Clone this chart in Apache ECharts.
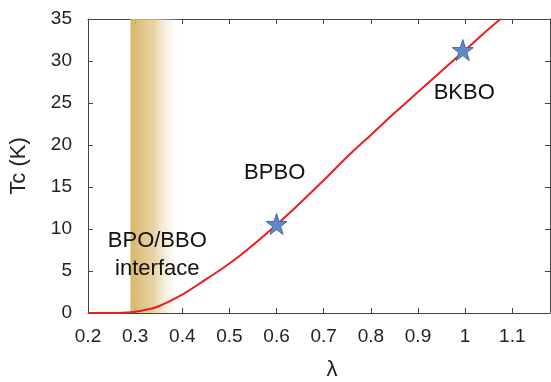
<!DOCTYPE html>
<html>
<head>
<meta charset="utf-8">
<script src="https://cdn.jsdelivr.net/npm/echarts@6/dist/echarts.min.js"></script>
<style>
  html, body { margin: 0; padding: 0; background: #fff; }
  #tcChart { width: 551px; height: 382px; }
</style>
</head>
<body>
<div id="tcChart"></div>
<script>
// Tc 随 λ 变化曲线
const lambdaData = [0.2, 0.25, 0.28, 0.3, 0.32, 0.35, 0.4, 0.45, 0.5, 0.55, 0.6, 0.65, 0.7, 0.75, 0.8, 0.85, 0.9, 0.95, 1.0, 1.05, 1.075];
const tcData = [0, 0, 0.05, 0.15, 0.35, 0.8, 2.2, 4.0, 5.9, 8.1, 10.5, 13.1, 15.8, 18.6, 21.2, 23.8, 26.3, 28.8, 31.3, 33.8, 35];

// 实验点 (星形)
const starPoints = [[0.6, 10.6], [0.995, 31.3]];

// 界面区域
const bandRange = [0.29, 0.40];

// 文字标注
const notes = [
  { name: "BPO/BBO\ninterface", value: [0.347, 6.9] },
  { name: "BPBO", value: [0.596, 16.7] },
  { name: "BKBO", value: [0.998, 26.2] },
];

const starPath = "path://M50,2 L61.2,36.6 L97.6,36.6 L68.2,58 L79.4,92.6 L50,71.2 L20.6,92.6 L31.8,58 L2.4,36.6 L38.8,36.6 Z";

const init = () => {
  let chartDom = document.getElementById("tcChart");
  let myChart = echarts.init(chartDom);
  let font = "Liberation Sans";

  let axisCommon = {
    axisLine: { show: true, onZero: false, lineStyle: { color: "#444", width: 1 } },
    axisTick: { show: true, inside: true, length: 5, lineStyle: { color: "#444" } },
    splitLine: { show: false },
  };

  let option = {
    animation: false,
    grid: { left: 88, right: 1, top: 19, bottom: 69, containLabel: false, outerBoundsMode: "none" },
    xAxis: [
      {
        type: "value",
        min: 0.2,
        max: 1.18,
        interval: 0.1,
        ...axisCommon,
        axisLabel: {
          color: "#222",
          fontSize: 19,
          fontFamily: font,
          margin: 14,
          showMaxLabel: false,
          formatter: (v) => String(Math.round(v * 10) / 10),
        },
        name: "λ",
        nameLocation: "middle",
        nameGap: 46,
        nameTextStyle: { color: "#222", fontSize: 22, fontFamily: font, padding: [0, 0, 0, 26] },
      },
      {
        type: "value",
        position: "top",
        min: 0.2,
        max: 1.18,
        interval: 0.1,
        ...axisCommon,
        axisLabel: { show: false },
      },
    ],
    yAxis: [
      {
        type: "value",
        min: 0,
        max: 35,
        interval: 5,
        ...axisCommon,
        axisLabel: { color: "#222", fontSize: 19, fontFamily: font, margin: 16 },
        name: "Tc (K)",
        nameLocation: "middle",
        nameGap: 58,
        nameTextStyle: { color: "#222", fontSize: 22, fontFamily: font },
      },
      {
        type: "value",
        position: "right",
        min: 0,
        max: 35,
        interval: 5,
        ...axisCommon,
        axisLabel: { show: false },
      },
    ],
    series: [
      {
        name: "Tc",
        type: "line",
        smooth: true,
        showSymbol: false,
        data: lambdaData.map((x, i) => [x, tcData[i]]),
        lineStyle: { color: "#ee1c1c", width: 2 },
        z: 2,
      },
      {
        name: "interface",
        type: "line",
        data: [],
        z: 3,
        markArea: {
          silent: true,
          itemStyle: {
            color: new echarts.graphic.LinearGradient(0, 0, 1, 0, [
              { offset: 0, color: "rgba(212,178,96,0.95)" },
              { offset: 0.45, color: "rgba(225,200,140,0.8)" },
              { offset: 1, color: "rgba(255,255,255,0)" },
            ]),
          },
          data: [[{ xAxis: bandRange[0] }, { xAxis: bandRange[1] }]],
        },
      },
      {
        name: "exp",
        type: "scatter",
        symbol: starPath,
        symbolSize: 21,
        data: starPoints,
        itemStyle: { color: "#6189c6", borderColor: "#3f67a6", borderWidth: 1, opacity: 1 },
        z: 5,
      },
      {
        name: "notes",
        type: "scatter",
        symbolSize: 0,
        data: notes,
        itemStyle: { opacity: 1 },
        label: {
          show: true,
          position: "inside",
          formatter: "{b}",
          color: "#111",
          fontSize: 22,
          fontFamily: font,
          lineHeight: 28,
          align: "center",
        },
        z: 6,
      },
    ],
  };

  myChart.setOption(option);
};

init();
</script>
</body>
</html>
